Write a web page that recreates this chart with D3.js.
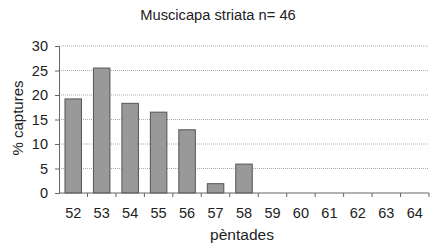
<!DOCTYPE html>
<html>
<head>
<meta charset="utf-8">
<script src="https://cdn.jsdelivr.net/npm/d3@7"></script>
<style>
  body { margin: 0; background: #fff; }
  svg { font-family: "Liberation Sans", Arial, sans-serif; }
</style>
</head>
<body>
<svg></svg>
<script>
const categories = ["52", "53", "54", "55", "56", "57", "58", "59", "60", "61", "62", "63", "64"];
const values = [19.2, 25.5, 18.3, 16.5, 12.9, 1.9, 5.9, 0, 0, 0, 0, 0, 0];
const yTicks = [0, 5, 10, 15, 20, 25, 30];
const title = "Muscicapa striata n= 46";

const width = 430;
const height = 244;
const svg = d3.select("svg").attr("width", width).attr("height", height);

const margin = { left: 59, right: 1, top: 46, bottom: 51 };
const graphWidth = width - margin.left - margin.right;
const graphHeight = height - margin.top - margin.bottom;

const g = svg.append("g").attr("transform", `translate(${margin.left}, ${margin.top})`);

const xScale = d3.scaleBand().domain(categories).range([0, graphWidth]).paddingInner(0.42).paddingOuter(0.21);
const yScale = d3.scaleLinear().domain([0, 30]).range([graphHeight, 0]);

// dotted gridlines
g.selectAll(".grid")
  .data(yTicks.filter((d) => d > 0))
  .enter()
  .append("line")
  .attr("x1", 0)
  .attr("x2", graphWidth)
  .attr("y1", (d) => yScale(d))
  .attr("y2", (d) => yScale(d))
  .attr("stroke", "#aaa")
  .attr("stroke-width", 1)
  .attr("stroke-dasharray", "1,1");

g.selectAll("rect")
  .data(values)
  .enter()
  .append("rect")
  .attr("x", (d, i) => xScale(categories[i]))
  .attr("y", (d) => yScale(d))
  .attr("width", xScale.bandwidth())
  .attr("height", (d) => graphHeight - yScale(d))
  .attr("fill", "#999")
  .attr("stroke", "#555")
  .attr("stroke-width", 1);

const yAxis = d3.axisLeft(yScale).tickValues(yTicks).tickSize(4).tickPadding(7);
const yAxisG = g.append("g").call(yAxis);
yAxisG.select(".domain").attr("stroke", "#666");
yAxisG.selectAll(".tick line").attr("stroke", "#666");
yAxisG.selectAll("text").attr("font-size", 14.5).attr("fill", "#222");

// x axis: ticks at band boundaries
const xAxisG = g.append("g").attr("transform", `translate(0, ${graphHeight})`);
xAxisG.append("line").attr("x1", 0).attr("x2", graphWidth).attr("stroke", "#666");
const step = xScale.step();
xAxisG.selectAll(".bound")
  .data(categories)
  .enter()
  .append("line")
  .attr("x1", (d) => xScale(d) - xScale.paddingOuter() * step + step)
  .attr("x2", (d) => xScale(d) - xScale.paddingOuter() * step + step)
  .attr("y1", 0)
  .attr("y2", 4)
  .attr("stroke", "#666");
xAxisG.selectAll(".lab")
  .data(categories)
  .enter()
  .append("text")
  .attr("x", (d) => xScale(d) + xScale.bandwidth() / 2)
  .attr("y", 25)
  .attr("text-anchor", "middle")
  .attr("font-size", 14.5)
  .attr("fill", "#222")
  .text((d) => d);

svg.append("text")
  .attr("x", 242)
  .attr("y", 240)
  .attr("text-anchor", "middle")
  .attr("font-size", 15.5)
  .attr("fill", "#222")
  .text("pèntades");

svg.append("text")
  .attr("transform", `translate(23, 118) rotate(-90)`)
  .attr("text-anchor", "middle")
  .attr("font-size", 15)
  .attr("fill", "#222")
  .text("% captures");

svg.append("text")
  .attr("x", 218)
  .attr("y", 20)
  .attr("text-anchor", "middle")
  .attr("font-size", 14.7)
  .attr("fill", "#222")
  .text(title);
</script>
</body>
</html>
